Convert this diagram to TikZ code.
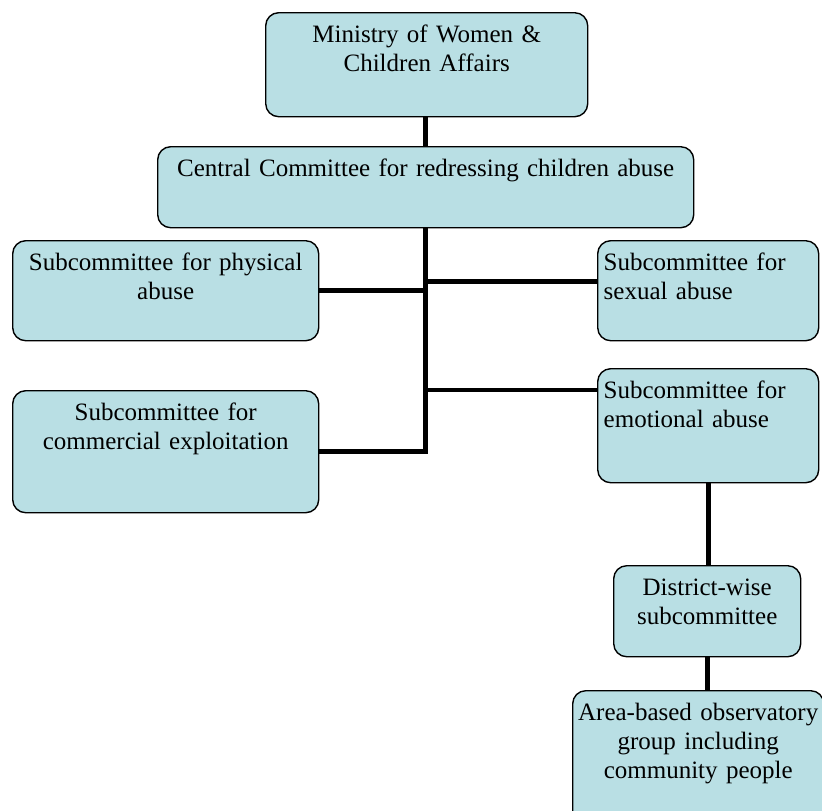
\documentclass[tikz,border=0pt]{standalone}
\usepackage{fontspec}
\setmainfont{Liberation Serif}
\definecolor{boxfill}{RGB}{185,223,228}
\begin{document}
\begin{tikzpicture}[x=0.5pt,y=-0.5pt]
    \tikzstyle{unit}=[draw=black,line width=0.7pt,fill=boxfill,rounded corners=6.5pt,anchor=north west,inner xsep=3pt,inner ysep=0pt,text height=15pt,align=center,font=\fontsize{12.5}{14.5}\selectfont]
    \tikzstyle{link}=[line width=2.3pt]

    \clip (0,0) rectangle (822,810);

    \node[unit,text width=155pt,text depth=37pt] at (265,12) (ministry) {Ministry of Women \&\\Children Affairs};
    \node[unit,text width=262pt,text depth=25.5pt] at (157,146) (central) {Central Committee for redressing children abuse};
    \node[unit,text width=147pt,text depth=35pt] at (12,240) (physical) {Subcommittee for physical\\abuse};
    \node[unit,text width=104.5pt,text depth=35pt,align=left] at (597,240) (sexual) {Subcommittee for\\sexual abuse};
    \node[unit,text width=147pt,text depth=46pt] at (12,390) (commercial) {Subcommittee for\\commercial exploitation};
    \node[unit,text width=104.5pt,text depth=42pt,align=left] at (597,368) (emotional) {Subcommittee for\\emotional abuse};
    \node[unit,text width=87.5pt,text depth=30.5pt] at (613,565) (district) {District-wise\\subcommittee};
    \node[unit,inner xsep=1pt,text width=123.5pt,text depth=65pt] at (572,690) (area) {Area-based observatory\\group including\\community people};

    % trunk and branches
    \draw[link] (ministry.south -| central.north) -- (central.north);
    \draw[link] (central.south) |- (commercial.east);
    \draw[link] (physical.east) -- (physical.east -| central.south);
    \draw[link] ([yshift=4.5pt]sexual.west) -- ([yshift=4.5pt]sexual.west -| central.south);
    \draw[link] ([yshift=-11pt]emotional.north west) -- ([yshift=-11pt]emotional.north west -| central.south);

    \draw[link] (emotional.south) -- (emotional.south |- district.north);
    \draw[link] (district.south) -- (district.south |- area.north);
\end{tikzpicture}
\end{document}
